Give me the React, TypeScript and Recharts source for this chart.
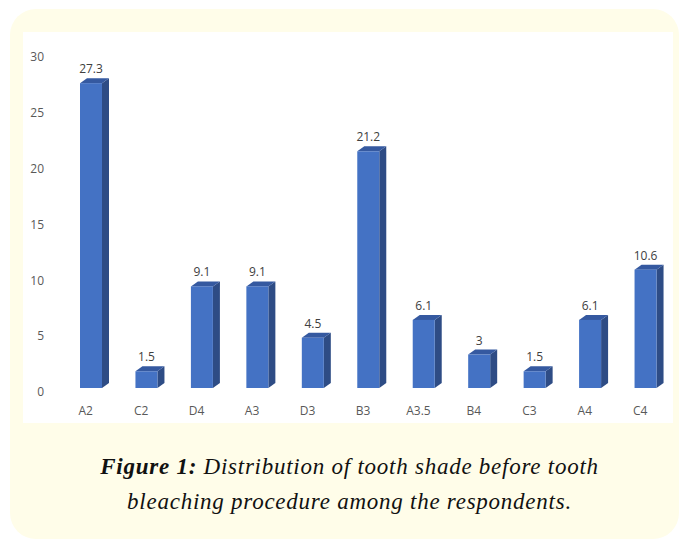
import { Bar, BarChart, LabelList, XAxis, YAxis } from "recharts";

const shades = ["A2", "C2", "D4", "A3", "D3", "B3", "A3.5", "B4", "C3", "A4", "C4"];
const percents = [27.3, 1.5, 9.1, 9.1, 4.5, 21.2, 6.1, 3, 1.5, 6.1, 10.6];
const yTicks = [0, 5, 10, 15, 20, 25, 30];

const data = shades.map((name, i) => ({ name, pct: percents[i] }));

// Excel-style 3D column: front face, right side, top
const Column3D = (props: any) => {
  const { x, y, width, height } = props;
  if (height == null || height <= 0) return null;
  const fx = x + 5;
  const d = 7;
  const r = 5;
  return (
    <g>
      <polygon
        points={`${fx + width},${y} ${fx + width + d},${y - r} ${fx + width + d},${y + height - r} ${fx + width},${y + height}`}
        fill="#2E4C85"
      />
      <polygon
        points={`${fx},${y} ${fx + d},${y - r} ${fx + width + d},${y - r} ${fx + width},${y}`}
        fill="#3559A0"
      />
      <rect x={fx} y={y} width={width} height={height} fill="#4472C4" />
    </g>
  );
};

const ValueLabel = (props: any) => {
  const { x, y, width, value } = props;
  return (
    <text
      x={x + 5 + width / 2}
      y={y - 10}
      textAnchor="middle"
      fontSize={12}
      fill="#404040"
    >
      {value}
    </text>
  );
};

const YTick = (props: any) => {
  const { x, y, payload } = props;
  return (
    <text x={x} y={y + 5} textAnchor="end" dominantBaseline="middle" fontSize={12} fill="#595959">
      {payload.value}
    </text>
  );
};

export default function App() {
  return (
    <div
      style={{
        position: "absolute",
        left: 0,
        top: 0,
        width: 679,
        height: 539,
        background: "#ffffff",
        overflow: "hidden",
        fontFamily: "'Open Sans', sans-serif",
      }}
    >
      <div
        style={{
          position: "absolute",
          left: 10,
          top: 9,
          width: 669,
          height: 530,
          background: "#FFFDE9",
          borderRadius: 26,
        }}
      />
      <div
        style={{
          position: "absolute",
          left: 23,
          top: 32,
          width: 650,
          height: 391,
          background: "#ffffff",
        }}
      >
        <BarChart
          width={650}
          height={391}
          data={data}
          margin={{ top: 21, right: 5, bottom: 0, left: 0 }}
          barSize={22}
        >
          <XAxis
            dataKey="name"
            axisLine={false}
            tickLine={false}
            height={35}
            tickMargin={12}
            interval={0}
            tick={{ fontSize: 12, fill: "#595959" }}
          />
          <YAxis
            domain={[0, 30]}
            ticks={yTicks}
            width={35}
            axisLine={false}
            tickLine={false}
            tickMargin={8}
            tick={<YTick />}
          />
          <Bar dataKey="pct" shape={<Column3D />} isAnimationActive={false}>
            <LabelList dataKey="pct" content={<ValueLabel />} />
          </Bar>
        </BarChart>
      </div>
      <div
        style={{
          position: "absolute",
          left: 0,
          width: 699,
          top: 449,
          textAlign: "center",
          fontFamily: "'Liberation Serif', serif",
          fontStyle: "italic",
          fontSize: 23,
          letterSpacing: 0.75,
          lineHeight: "35px",
          color: "#111111",
        }}
      >
        <b>Figure 1:</b> Distribution of tooth shade before tooth
        <br />
        bleaching procedure among the respondents.
      </div>
    </div>
  );
}
